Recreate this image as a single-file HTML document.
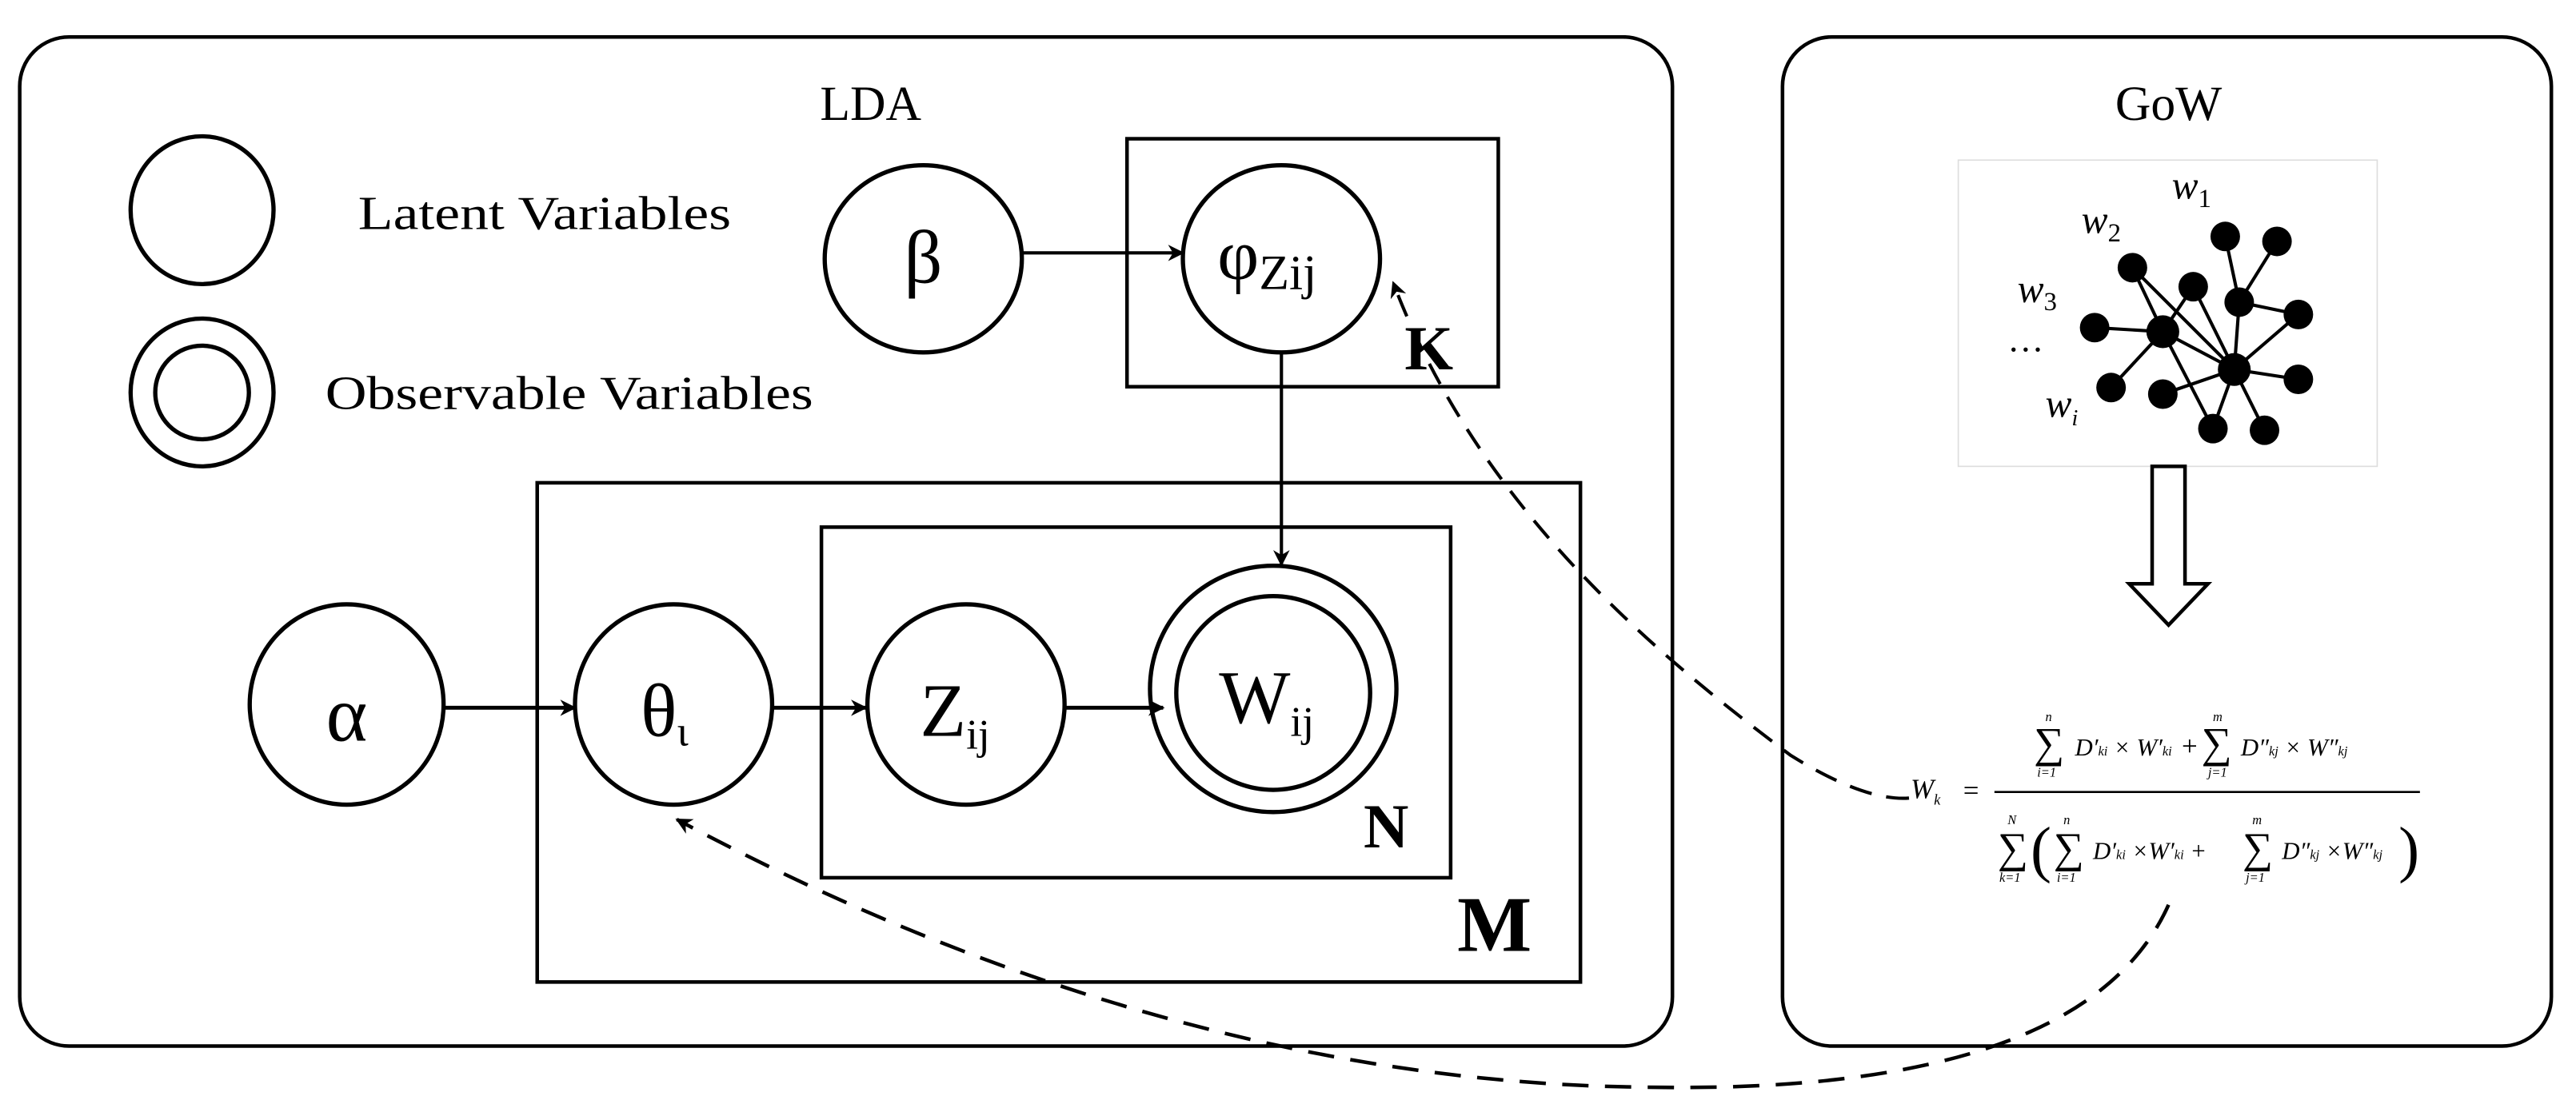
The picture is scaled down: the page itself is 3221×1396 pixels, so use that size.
<!DOCTYPE html>
<html><head><meta charset="utf-8"><style>
html,body{margin:0;padding:0;background:#fff;}
svg{display:block;}
text{font-family:"Liberation Serif",serif;fill:#000;}
</style></head><body>
<svg width="3221" height="1396" viewBox="0 0 1568 679.6" preserveAspectRatio="none" xmlns="http://www.w3.org/2000/svg">
<defs>
<marker id="ah" markerWidth="10" markerHeight="10" refX="9" refY="5" orient="auto" markerUnits="userSpaceOnUse">
<path d="M0,0 L10,5 L0,10 L3,5 Z" fill="#000"/></marker>
</defs>
<g fill="none" stroke="#000" stroke-width="2.2">
<rect x="12" y="22.5" width="1006" height="614.5" rx="30"/>
<rect x="1085" y="22.5" width="468" height="614.5" rx="30"/>
<ellipse cx="123" cy="128" rx="43.5" ry="45" stroke-width="2.6"/>
<ellipse cx="123" cy="239" rx="43.5" ry="45" stroke-width="2.6"/>
<ellipse cx="123" cy="239" rx="28.5" ry="28.5" stroke-width="2.6"/>
<ellipse cx="562" cy="157.6" rx="60" ry="57" stroke-width="2.6"/>
<ellipse cx="780" cy="157.6" rx="60" ry="57" stroke-width="2.6"/>
<rect x="686" y="84.5" width="226" height="151"/>
<rect x="327" y="294" width="635" height="304"/>
<rect x="500" y="321" width="383" height="213.5"/>
<ellipse cx="211" cy="429" rx="59" ry="61" stroke-width="2.6"/>
<ellipse cx="410" cy="429" rx="60" ry="61" stroke-width="2.6"/>
<ellipse cx="588" cy="429" rx="60" ry="61" stroke-width="2.6"/>
<ellipse cx="775" cy="419.5" rx="75" ry="75" stroke-width="2.6"/>
<ellipse cx="775" cy="422" rx="59" ry="59" stroke-width="2.6"/>
<line x1="622" y1="154" x2="720" y2="154" marker-end="url(#ah)" stroke-width="2"/>
<line x1="780" y1="215" x2="780" y2="344" marker-end="url(#ah)" stroke-width="2"/>
<line x1="270" y1="431" x2="350" y2="431" marker-end="url(#ah)" stroke-width="2.4"/>
<line x1="470" y1="431" x2="527" y2="431" marker-end="url(#ah)" stroke-width="2.4"/>
<line x1="648" y1="431" x2="708" y2="431" marker-end="url(#ah)" stroke-width="2.4"/>
<path d="M1162,486 Q1135,488 1090,460 C1010,400 900,310 848,172" stroke-dasharray="14,9" stroke-width="2" marker-end="url(#ah)"/>
<path d="M1320,551 C1280,640 1150,665 1000,662 C800,660 600,600 412,499" stroke-dasharray="16,10" stroke-width="2.2" marker-end="url(#ah)"/>
<rect x="1192" y="97.5" width="255" height="186.5" stroke="#ddd" stroke-width="0.8"/>
<path d="M1310,284 L1330,284 L1330,355.5 L1344,355.5 L1320,380.6 L1296,355.5 L1310,355.5 Z" stroke-width="2.2"/>
<line x1="1214" y1="482.3" x2="1473" y2="482.3" stroke-width="1.3"/>
</g>
<text x="530" y="73" font-size="30" text-anchor="middle">LDA</text>
<text x="1320" y="73" font-size="30" text-anchor="middle">GoW</text>
<text x="218" y="139.6" font-size="29" textLength="227" lengthAdjust="spacingAndGlyphs">Latent Variables</text>
<text x="198" y="249" font-size="29" textLength="297" lengthAdjust="spacingAndGlyphs">Observable Variables</text>
<text x="562" y="172" font-size="46" text-anchor="middle">β</text>
<text x="741" y="170" font-size="44">φ<tspan font-size="30" dy="6">Zij</tspan></text>
<text x="855" y="225" font-size="38" font-weight="bold">K</text>
<text x="211" y="451" font-size="48" text-anchor="middle">α</text>
<text x="390" y="448" font-size="46">θ<tspan font-size="26" dy="6">ι</tspan></text>
<text x="560" y="448" font-size="46">Z<tspan font-size="26" dy="8">ij</tspan></text>
<text x="742" y="440" font-size="46">W<tspan font-size="26" dy="8">ij</tspan></text>
<text x="830" y="516" font-size="38" font-weight="bold">N</text>
<text x="887" y="579" font-size="48" font-weight="bold">M</text>
<g stroke="#000" stroke-width="2" fill="none">
<line x1="1316.5" y1="202" x2="1298" y2="163"/>
<line x1="1316.5" y1="202" x2="1275" y2="199.5"/>
<line x1="1316.5" y1="202" x2="1285" y2="236"/>
<line x1="1316.5" y1="202" x2="1347" y2="261"/>
<line x1="1316.5" y1="202" x2="1335" y2="174.6"/>
<line x1="1316.5" y1="202" x2="1360" y2="225"/>
<line x1="1363" y1="184" x2="1354.5" y2="144"/>
<line x1="1363" y1="184" x2="1386" y2="147"/>
<line x1="1363" y1="184" x2="1399" y2="191.5"/>
<line x1="1360" y1="225" x2="1363" y2="184"/>
<line x1="1360" y1="225" x2="1399" y2="191.5"/>
<line x1="1360" y1="225" x2="1399" y2="231"/>
<line x1="1360" y1="225" x2="1347" y2="261"/>
<line x1="1360" y1="225" x2="1378.4" y2="262"/>
<line x1="1360" y1="225" x2="1316.5" y2="240"/>
<line x1="1360" y1="225" x2="1335" y2="174.6"/>
<line x1="1360" y1="225" x2="1298" y2="163"/>
</g>
<g fill="#000">
<circle cx="1354.5" cy="144" r="9"/><circle cx="1386" cy="147" r="9"/>
<circle cx="1298" cy="163" r="9"/><circle cx="1335" cy="174.6" r="9"/>
<circle cx="1363" cy="184" r="9"/><circle cx="1399" cy="191.5" r="9"/>
<circle cx="1275" cy="199.5" r="9"/><circle cx="1316.5" cy="202" r="10"/>
<circle cx="1360" cy="225" r="10"/><circle cx="1399" cy="231" r="9"/>
<circle cx="1285" cy="236" r="9"/><circle cx="1316.5" cy="240" r="9"/>
<circle cx="1347" cy="261" r="9"/><circle cx="1378.4" cy="262" r="9"/>
</g>
<g font-style="italic">
<text x="1322" y="121" font-size="24">w<tspan font-size="16" font-style="normal" dy="5">1</tspan></text>
<text x="1267" y="142" font-size="24">w<tspan font-size="16" font-style="normal" dy="5">2</tspan></text>
<text x="1228" y="184" font-size="24">w<tspan font-size="16" font-style="normal" dy="5">3</tspan></text>
<text x="1245" y="254" font-size="24">w<tspan font-size="14" dy="5">i</tspan></text>
</g>
<text x="1222" y="214" font-size="22">…</text>
<g fill="#333" font-style="italic">
<text x="1163" y="486" font-size="17">W<tspan font-size="9" dy="4">k</tspan></text>
<text x="1195" y="487" font-size="17" font-style="normal">=</text>
<text x="1238" y="461" font-size="26" font-style="normal">∑</text>
<text x="1263" y="460" font-size="15">D′<tspan font-size="8">ki</tspan> × W′<tspan font-size="8">ki</tspan></text>
<text x="1328" y="460" font-size="17" font-style="normal">+</text>
<text x="1340" y="461" font-size="26" font-style="normal">∑</text>
<text x="1364" y="460" font-size="15">D″<tspan font-size="8">kj</tspan> × W″<tspan font-size="8">kj</tspan></text>
<text x="1245" y="439" font-size="8">n</text><text x="1347" y="439" font-size="8">m</text>
<text x="1240" y="473" font-size="8">i=1</text><text x="1344" y="473" font-size="8">j=1</text>
<text x="1216" y="525" font-size="26" font-style="normal">∑</text>
<text x="1236" y="530" font-size="38" font-style="normal">(</text>
<text x="1250" y="525" font-size="26" font-style="normal">∑</text>
<text x="1274" y="523" font-size="15">D′<tspan font-size="8">ki</tspan> ×W′<tspan font-size="8">ki</tspan> +</text>
<text x="1365" y="525" font-size="26" font-style="normal">∑</text>
<text x="1389" y="523" font-size="15">D″<tspan font-size="8">kj</tspan> ×W″<tspan font-size="8">kj</tspan></text>
<text x="1460" y="530" font-size="38" font-style="normal">)</text>
<text x="1222" y="502" font-size="8">N</text><text x="1256" y="502" font-size="8">n</text><text x="1371" y="502" font-size="8">m</text>
<text x="1217" y="537" font-size="8">k=1</text><text x="1252" y="537" font-size="8">i=1</text><text x="1367" y="537" font-size="8">j=1</text>
</g>
</svg>
</body></html>
